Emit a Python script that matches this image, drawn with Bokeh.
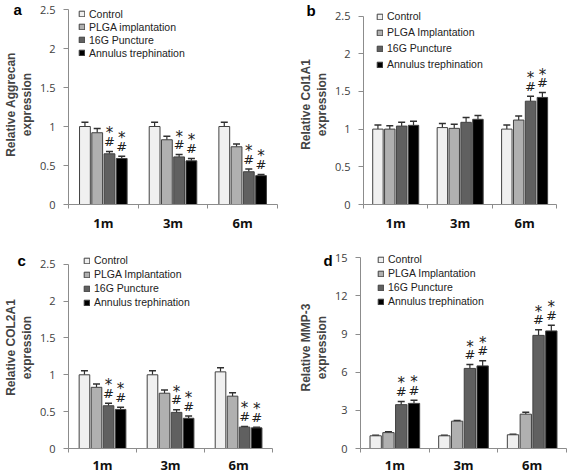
from bokeh.plotting import figure
from bokeh.models import (Range1d, FixedTicker, NumeralTickFormatter, Label, Legend,
                          LegendItem, Whisker, TeeHead, ColumnDataSource)
from bokeh.layouts import column, row
from bokeh.core.properties import value
from bokeh.embed import file_html
from bokeh.resources import INLINE

# ---------------- data ----------------
categories = ["1m", "3m", "6m"]
series_a = ["Control", "PLGA implantation", "16G Puncture", "Annulus trephination"]
series_bcd = ["Control", "PLGA Implantation", "16G Puncture", "Annulus trephination"]

# panel a: Aggrecan (rows = series, cols = 1m, 3m, 6m)
aggrecan_mean = [[1.00, 1.00, 1.00], [0.92, 0.83, 0.74], [0.65, 0.61, 0.42], [0.59, 0.56, 0.37]]
aggrecan_err = [[0.055, 0.055, 0.055], [0.055, 0.045, 0.035], [0.03, 0.03, 0.035], [0.03, 0.03, 0.015]]
aggrecan_sig = [[0, 0, 0], [0, 0, 0], [1, 1, 1], [1, 1, 1]]

# panel b: Col1A1
col1a1_mean = [[1.00, 1.02, 1.00], [1.00, 1.01, 1.12], [1.04, 1.09, 1.37], [1.05, 1.13, 1.42]]
col1a1_err = [[0.055, 0.055, 0.055], [0.045, 0.055, 0.055], [0.05, 0.065, 0.065], [0.055, 0.05, 0.065]]
col1a1_sig = [[0, 0, 0], [0, 0, 0], [0, 0, 1], [0, 0, 1]]

# panel c: COL2A1
col2a1_mean = [[1.00, 1.00, 1.04], [0.83, 0.75, 0.71], [0.58, 0.49, 0.29], [0.53, 0.41, 0.28]]
col2a1_err = [[0.055, 0.055, 0.055], [0.045, 0.045, 0.045], [0.035, 0.035, 0.01], [0.03, 0.03, 0.01]]
col2a1_sig = [[0, 0, 0], [0, 0, 0], [1, 1, 1], [1, 1, 1]]

# panel d: MMP-3
mmp3_mean = [[1.00, 1.00, 1.08], [1.25, 2.15, 2.70], [3.45, 6.30, 8.90], [3.55, 6.50, 9.25]]
mmp3_err = [[0.05, 0.05, 0.05], [0.07, 0.06, 0.15], [0.25, 0.30, 0.45], [0.25, 0.40, 0.45]]
mmp3_sig = [[0, 0, 0], [0, 0, 0], [1, 1, 1], [1, 1, 1]]

ticks_rel = [0, 0.5, 1, 1.5, 2, 2.5]
ticks_mmp = [0, 3, 6, 9, 12, 15]

# ---------------- styles / layout ----------------
FILLS = ["#f0f0f0", "#b0b0b0", "#606060", "#000000"]
OUTLINE = "#404040"
AXIS = "#8c8c8c"
W, H = 286, 238


def make_panel(letter, ylabel, means, errs, sig, names, yticks, lay):
    fl, fr, ft, fb = lay["frame"]          # frame box in panel pixels
    ax_right, tick_top = lay["axis"]       # where x axis ends / top tick sits
    ncat = len(categories)
    x_end = ncat * (fr - fl) / (ax_right - fl)
    y_end = yticks[-1] * (fb - ft) / (fb - tick_top)
    p = figure(width=W, height=H, x_range=Range1d(0, x_end), y_range=Range1d(0, y_end),
               output_backend="svg", toolbar_location=None,
               min_border_left=fl, min_border_right=W - fr,
               min_border_top=ft, min_border_bottom=H - fb)
    p.xgrid.visible = False
    p.ygrid.visible = False
    p.outline_line_color = None
    p.background_fill_color = "white"
    p.border_fill_color = "white"

    # x axis: labels at category centres, tick marks at boundaries
    xa = p.xaxis[0]
    centers = [i + 0.5 for i in range(ncat)]
    xa.ticker = FixedTicker(ticks=centers, minor_ticks=list(range(ncat + 1)))
    xa.major_label_overrides = {c: lab for c, lab in zip(centers, categories)}
    xa.bounds = (0, ncat)
    xa.axis_line_color = AXIS
    xa.major_tick_line_color = None
    xa.major_tick_out = 0
    xa.major_tick_in = 0
    xa.minor_tick_line_color = AXIS
    xa.minor_tick_out = 4
    xa.minor_tick_in = 0
    xa.major_label_standoff = lay["xs"]
    xa.major_label_text_font = "Open Sans"
    xa.major_label_text_font_style = "bold"
    xa.major_label_text_font_size = "13px"
    xa.major_label_text_color = "#111111"

    ya = p.yaxis[0]
    ya.ticker = FixedTicker(ticks=yticks, minor_ticks=[])
    ya.formatter = NumeralTickFormatter(format="0.[0]")
    ya.bounds = (yticks[0], yticks[-1])
    ya.axis_line_color = AXIS
    ya.major_tick_line_color = AXIS
    ya.major_tick_out = 5
    ya.major_tick_in = 0
    ya.minor_tick_line_color = None
    ya.major_label_standoff = 8
    ya.major_label_text_font = "Open Sans"
    ya.major_label_text_font_size = "11px"
    ya.major_label_text_color = "#404040"
    ya.axis_label = ylabel
    ya.axis_label_text_font = "Liberation Sans"
    ya.axis_label_text_font_style = "bold"
    ya.axis_label_text_font_size = "12px"
    ya.axis_label_text_line_height = 1.15
    ya.axis_label_standoff = 3

    pitch = lay["pitch"]
    width = pitch - lay["gap"]
    items = []
    for j, name in enumerate(names):
        off = (j - 1.5) * pitch
        xs = [i + 0.5 + off for i in range(ncat)]
        tops = means[j]
        uppers = [m + e for m, e in zip(means[j], errs[j])]
        src = ColumnDataSource(dict(x=xs, top=tops, upper=uppers))
        r = p.vbar(x="x", top="top", bottom=0, width=width, source=src,
                   fill_color=FILLS[j], line_color=OUTLINE, line_width=1)
        items.append(LegendItem(label=name, renderers=[r]))
        w = Whisker(base="x", lower="top", upper="upper", source=src, dimension="height",
                    line_color="#303030", line_width=1.2, lower_head=None,
                    upper_head=TeeHead(size=7, line_color="#303030", line_width=1.5))
        p.add_layout(w)
        sx = [x for x, s in zip(xs, sig[j]) if s]
        sy = [u for u, s in zip(uppers, sig[j]) if s]
        if sx:
            msrc = ColumnDataSource(dict(x=sx, y=sy))
            p.text(x="x", y="y", text=value("#"), source=msrc, y_offset=-10,
                   text_align="center", text_baseline="middle", text_font=value("DejaVu Sans"),
                   text_font_size="13px", text_color="#202020")
            p.text(x="x", y="y", text=value("*"), source=msrc, y_offset=-18,
                   text_align="center", text_baseline="middle", text_font=value("DejaVu Sans"),
                   text_font_size="15px", text_color="#202020")

    leg = Legend(items=items, location=lay["leg"],
                 glyph_width=7, glyph_height=7, label_height=lay["lp"], spacing=0,
                 padding=0, margin=0, label_standoff=4,
                 border_line_color=None, background_fill_alpha=0,
                 label_text_font="Liberation Sans", label_text_font_size="10.5px",
                 label_text_color="#222222")
    p.add_layout(leg)

    # panel letter: kept in a side panel so that it is not clipped to the frame
    tx, ty, side = lay["letter"]
    p.add_layout(Label(x=0, y=y_end, x_offset=tx - fl, y_offset=ft - ty,
                       text=letter, text_font="Liberation Sans", text_font_style="bold",
                       text_font_size="15px", text_baseline="bottom", text_color="black"),
                 side)
    return p


# frame = (left, right, top, bottom) inside each 286x238 panel;
# columns / rows share their borders because Bokeh aligns them.
lay_a = dict(frame=(64, 277, 4, 204), axis=(277, 9), pitch=0.176, gap=0.021, xs=5,
             leg=(10, 145), lp=13, letter=(9, 17, "right"))
lay_b = dict(frame=(70, 280, 4, 204), axis=(270, 15.5), pitch=0.184, gap=0.022, xs=5,
             leg=(13, 132), lp=16, letter=(13, 18, "left"))
lay_c = dict(frame=(64, 277, 8, 213), axis=(272, 26), pitch=0.177, gap=0.021, xs=3,
             leg=(15, 139), lp=14, letter=(13, 30, "right"))
lay_d = dict(frame=(70, 280, 8, 213), axis=(280, 19.5), pitch=0.186, gap=0.021, xs=3,
             leg=(17, 140), lp=14, letter=(33, 30, "left"))

pa = make_panel("a", "Relative Aggrecan\nexpression", aggrecan_mean, aggrecan_err,
                aggrecan_sig, series_a, ticks_rel, lay_a)
pb = make_panel("b", "Relative Col1A1\nexpression", col1a1_mean, col1a1_err,
                col1a1_sig, series_bcd, ticks_rel, lay_b)
pc = make_panel("c", "Relative COL2A1\nexpression", col2a1_mean, col2a1_err,
                col2a1_sig, series_bcd, ticks_rel, lay_c)
pd = make_panel("d", "Relative MMP-3\nexpression", mmp3_mean, mmp3_err,
                mmp3_sig, series_bcd, ticks_mmp, lay_d)

layout = column(row(pa, pb, spacing=0), row(pc, pd, spacing=0), spacing=0)

open("out.html", "w").write(file_html(layout, INLINE))
